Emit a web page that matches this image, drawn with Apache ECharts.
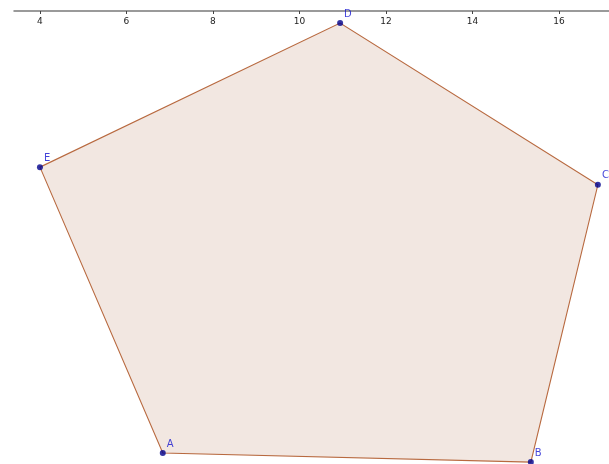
<!DOCTYPE html>
<html><head><meta charset="utf-8">
<script src="https://cdn.jsdelivr.net/npm/echarts@6/dist/echarts.min.js"></script>
<style>html,body{margin:0;padding:0;background:#fff}#c{width:609px;height:464px}</style>
</head><body><div id="c"></div>
<script>
const pointNames = ['A', 'B', 'C', 'D', 'E'];
const pointX = [6.84, 15.35, 16.90, 10.94, 4.00];
const pointY = [-10.22, -10.43, -4.02, -0.28, -3.61];
const xTicks = [4, 6, 8, 10, 12, 14, 16];

const pts = pointNames.map((n, i) => ({ name: n, value: [pointX[i], pointY[i]] }));
const chart = echarts.init(document.getElementById('c'));
chart.setOption({
  animation: false,
  grid: { left: 14, right: 0, top: 11, bottom: 0 },
  xAxis: {
    type: 'value', position: 'top', min: 3.4, max: 3.4 + 595 / 43.25,
    splitLine: { show: false },
    axisLine: { show: true, lineStyle: { color: '#7a7a7a', width: 1.5 } },
    axisTick: { show: true, inside: true, length: 3, customValues: xTicks, lineStyle: { color: '#444' } },
    axisLabel: { inside: true, margin: 6, customValues: xTicks, fontSize: 9, color: '#222', fontFamily: 'DejaVu Sans' }
  },
  yAxis: { type: 'value', min: -453 / 43.25, max: 0, show: false },
  series: [
    {
      type: 'custom',
      clip: false,
      data: [0],
      renderItem: function (params, api) {
        const p = pts.map(d => api.coord(d.value));
        return {
          type: 'polygon',
          shape: { points: p },
          style: { fill: '#f2e7e1', stroke: '#b8693f', lineWidth: 1.1 }
        };
      }
    },
    {
      type: 'scatter',
      data: pts,
      symbolSize: 6,
      clip: false,
      itemStyle: { color: '#00008c' },
      label: {
        show: true, formatter: '{b}', position: 'right', distance: 1,
        offset: [0, -9], color: '#1414d0', fontSize: 10, fontFamily: 'DejaVu Sans'
      },
      z: 3
    }
  ]
});
</script></body></html>
